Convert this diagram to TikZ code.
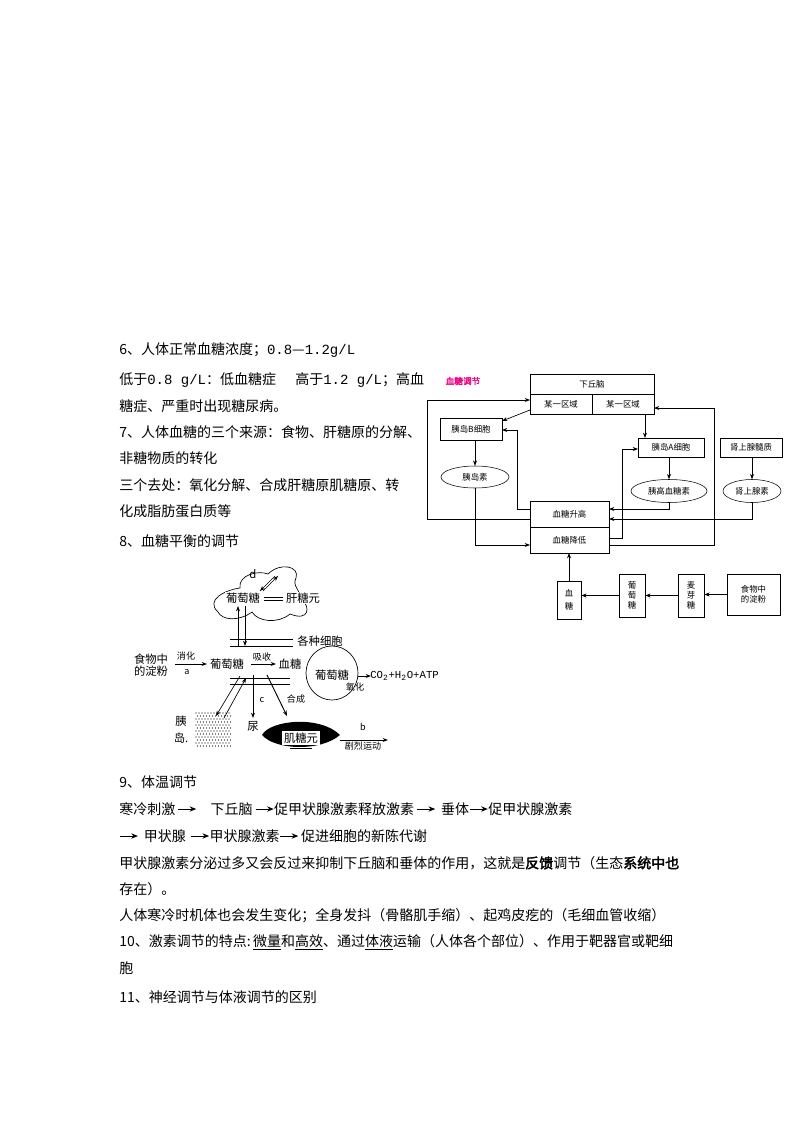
\documentclass[tikz,border=0pt]{standalone}
\usepackage{fontspec}
\setmainfont[AutoFakeBold=2.5]{Noto Sans CJK SC}
\newfontfamily\monof{Liberation Mono}
\usetikzlibrary{arrows.meta,shapes.geometric,decorations.pathmorphing}
\newcommand{\tar}{\raisebox{0.35ex}{\tikz\draw[line width=0.7pt,-{Stealth[length=5pt,width=4pt]}](0,0)--(1.3em,0);}}
\begin{document}
\begin{tikzpicture}[x=0.75pt,y=-0.75pt,
  txt/.style={anchor=west,inner sep=0,font=\fontsize{10.5}{12}\selectfont},
  sm/.style={font=\fontsize{6.3}{7.5}\selectfont,inner sep=0},
  bx/.style={draw,sm,rectangle,minimum width=#1*0.75pt},
  el/.style={draw,ellipse,sm,inner sep=0},
  ar/.style={-{Stealth[length=4pt,width=3pt]},line width=0.5pt},
  ln/.style={line width=0.5pt},
  lab/.style={font=\fontsize{8.5}{9}\selectfont,inner sep=0},
  labs/.style={font=\fontsize{6.8}{8}\selectfont,inner sep=0}]
\useasboundingbox (0,0) rectangle (794,1123);
% ---- text lines
\node[txt] (t1) at (119,350) {6、人体正常血糖浓度；{\monof 0.8}—{\monof 1.2g/L}};
\node[txt] (t2) at (119,380) {低于{\monof 0.8 g/L}：低血糖症};
\node[txt] (t2b) at (295,380) {高于{\monof 1.2 g/L}；高血};
\node[txt] (t3) at (119,406) {糖症、严重时出现糖尿病。};
\node[txt] (t4) at (119,432) {7、人体血糖的三个来源：食物、肝糖原的分解、};
\node[txt] (t5) at (119,458) {非糖物质的转化};
\node[txt] (t6) at (119,485) {三个去处：氧化分解、合成肝糖原肌糖原、转};
\node[txt] (t7) at (119,511) {化成脂肪蛋白质等};
\node[txt] (t8) at (119,541) {8、血糖平衡的调节};
\node[txt] (t9) at (119,782) {9、体温调节};
\node[txt] (t10) at (119,809) {寒冷刺激\,\tar\quad 下丘脑\,\tar 促甲状腺激素释放激素\,\tar\, 垂体\tar 促甲状腺激素};
\node[txt] (t11) at (119,836) {\tar\, 甲状腺\,\,\tar 甲状腺激素\tar\,促进细胞的新陈代谢};
\node[txt] (t12) at (119,863) {甲状腺激素分泌过多又会反过来抑制下丘脑和垂体的作用，这就是{\bfseries 反馈}调节（生态{\bfseries 系统中也}};
\node[txt] (t13) at (119,889) {存在）。};
\node[txt] (t14) at (119,916) {人体寒冷时机体也会发生变化；全身发抖（骨骼肌手缩）、起鸡皮疙的（毛细血管收缩）};
\node[txt] (t15) at (119,942) {10、激素调节的特点:\,\underline{微量}和\underline{高效}、通过\underline{体液}运输（人体各个部位）、作用于靶器官或靶细};
\node[txt] (t16) at (119,968) {胞};
\node[txt] (t17) at (119,997) {11、神经调节与体液调节的区别};
% ---- right diagram
\node[font=\fontsize{6.5}{7}\selectfont\bfseries,text=magenta!90!red,inner sep=0] (title) at (463,381) {血糖调节};
\node[draw,minimum width=124*0.75pt,minimum height=40*0.75pt,inner sep=0] (hyp) at (592,394) {};
\draw[ln] (530,394) -- (654,394) (592,394) -- (592,414);
\node[sm] (hypt) at (592,384) {下丘脑};
\node[sm] (r1) at (561,404) {某一区域};
\node[sm] (r2) at (623,404) {某一区域};
\node[bx=62,minimum height=22*0.75pt] (B) at (471,429) {胰岛B细胞};
\node[el,minimum width=68*0.75pt,minimum height=22*0.75pt] (ins) at (475,477) {胰岛素};
\node[bx=66,minimum height=19*0.75pt] (A) at (671,447.5) {胰岛A细胞};
\node[el,minimum width=76*0.75pt,minimum height=23*0.75pt] (glu) at (669,491) {胰高血糖素};
\node[bx=62,minimum height=19*0.75pt] (adm) at (751,447.5) {肾上腺髓质};
\node[el,minimum width=58*0.75pt,minimum height=23*0.75pt] (adr) at (752,491) {肾上腺素};
\node[draw,minimum width=79*0.75pt,minimum height=52*0.75pt,inner sep=0] (bg) at (569.5,527) {};
\draw[ln] (530,527) -- (609,527);
\node[sm] (up) at (569.5,514) {血糖升高};
\node[sm] (down) at (569.5,540) {血糖降低};
\node[bx=24,minimum height=38*0.75pt,align=center] (xt) at (569,600) {血\\[2pt]糖};
\node[bx=26,minimum height=43*0.75pt,align=center] (pt) at (632,595.5) {葡\\萄\\糖};
\node[bx=26,minimum height=43*0.75pt,align=center] (my) at (691,595.5) {麦\\芽\\糖};
\node[bx=53,minimum height=41*0.75pt,align=center] (food) at (753.5,594.5) {食物中\\的淀粉};
\draw[ln,ar] (530,519) -- (427,519) -- (427,400) -- (530,400);
\draw[ln,ar] (530,410) -- (502,421);
\draw[ln,ar] (B.south -| ins.north) -- (ins.north);
\draw[ln,ar] (ins.south) -- (475,545) -- (530,545);
\draw[ln,ar] (530,509) -- (517,509) -- (517,430) -- (502,430);
\draw[ln,ar] (645,414) -- (645,438);
\draw[ln,ar] (609,538) -- (622,538) -- (622,449) -- (638,449);
\draw[ln,ar] (669,457) -- (glu.north);
\draw[ln,ar] (glu.south) -- (669,509) -- (609,509);
\draw[ln,ar] (adm.south -| adr.north) -- (adr.north);
\draw[ln,ar] (adr.south) -- (752,519) -- (609,519);
\draw[ln,ar] (609,545) -- (714,545) -- (714,408) -- (654,408);
\draw[ln,ar] (xt.north) -- (569,553);
\draw[ln,ar] (pt.west) -- (xt.east |- pt.west);
\draw[ln,ar] (my.west) -- (pt.east |- my.west);
\draw[ln,ar] (food.west) -- (my.east |- food.west);
% ---- left diagram
\draw[ln] (218,612) .. controls (205,600) and (225,590) .. (240,588)
  .. controls (238,575) and (258,570) .. (268,574)
  .. controls (280,562) and (300,566) .. (296,578)
  .. controls (292,586) and (300,590) .. (302,600)
  .. controls (310,606) and (310,622) .. (290,614)
  .. controls (278,624) and (258,622) .. (252,612)
  .. controls (238,622) and (222,620) .. (218,612) -- cycle;
\node[lab] (d) at (253,574) {d};
\node[lab,fill=white,inner sep=0.5pt] (g1) at (243,598) {葡萄糖};
\node[lab,fill=white,inner sep=0.5pt] (gly) at (303,598) {肝糖元};
\draw[ln] (264,597) -- (283,597) (264,600) -- (283,600);
\draw[ar] (263,591) -- (278,576);
\draw[ar] (275,576) -- (260,591);
\draw[ar] (238,646) -- (238,606);
\draw[ar] (245,606) -- (245,646);
\draw[ln] (230,639) -- (293,639) (230,646) -- (293,646);
\node[lab] (cells) at (320,641) {各种细胞};
\node[lab,align=center] (sta) at (151,665) {食物中\\的淀粉};
\node[labs] (xh) at (186,656) {消化};
\node[labs] (a) at (187,672) {a};
\node[lab] (g2) at (227,664) {葡萄糖};
\draw[ar,line width=0.7pt] (175,664) -- (207,664);
\node[labs] (xs) at (262,657) {吸收};
\draw[ar,line width=0.7pt] (251,664) -- (276,664);
\node[lab] (xt2) at (290,664) {血糖};
\draw[ln] (230,678) -- (290,678) (230,684) -- (290,684);
\draw[ln] (332,673) ellipse (26 and 27);
\node[lab,fill=white,inner sep=1pt] (g3) at (332,675) {葡萄糖};
\draw[ar,line width=0.7pt] (358,676) -- (371,676);
\node[lab,anchor=west,font=\fontsize{8}{9}\selectfont] (co2) at (370,676) {{\monof CO\textsubscript{2}+H\textsubscript{2}O+ATP}};
\node[labs] (yh) at (355,687) {氧化};
\node[labs] (c) at (262,700) {c};
\draw[ar,line width=0.7pt] (253,675) -- (253,718);
\node[lab] (ur) at (253,726) {尿};
\node[labs] (hc) at (296,699) {合成};
\draw[ar,line width=0.7pt] (267,675) -- (287,716);
\draw[ar] (240,676) -- (216,716);
\draw[ar] (224,718) -- (246,678);
\node[lab] (yi) at (181,721) {胰};
\node[lab] (dao) at (181,738) {岛.};
\foreach \i in {0,...,11}{\foreach \j in {0,...,11}{
  \pgfmathsetmacro{\xx}{196+3*\i+mod(\j,2)*1.5}
  \pgfmathsetmacro{\yy}{713+3*\j}
  \fill (\xx,\yy) circle (0.6);}}
\fill (262,735) .. controls (270,720) and (320,715) .. (340,735)
  .. controls (320,752) and (275,750) .. (262,735) -- cycle;
\node[lab,fill=white,inner sep=1.5pt] (jt) at (301,738) {肌糖元};
\draw[ln] (290,748) -- (312,748);
\draw[ar,line width=0.7pt] (340,740) -- (388,740);
\node[labs] (b) at (363,727) {b};
\node[labs] (jl) at (363,746) {剧烈运动};
\end{tikzpicture}
\end{document}
